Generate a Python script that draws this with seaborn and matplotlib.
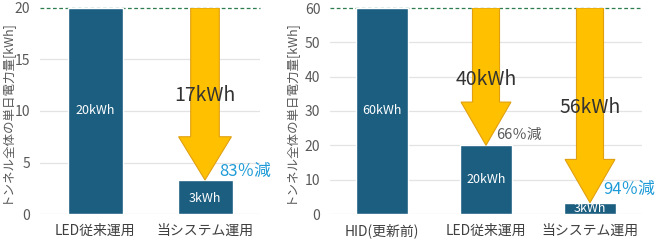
import matplotlib
matplotlib.use("Agg")
import matplotlib.pyplot as plt
import seaborn as sns
import numpy as np

# ---- data ----
left_categories = ["LED従来運用", "当システム運用"]
left_values = [20, 3.3]
left_bar_labels = ["20kWh", "3kWh"]
left_yticks = [0, 5, 10, 15, 20]
left_arrow_labels = ["17kWh"]
left_reduction_labels = ["83％減"]

right_categories = ["HID(更新前)", "LED従来運用", "当システム運用"]
right_values = [60, 20, 3.3]
right_bar_labels = ["60kWh", "20kWh", "3kWh"]
right_yticks = [0, 10, 20, 30, 40, 50, 60]
right_arrow_labels = ["40kWh", "56kWh"]
right_reduction_labels = ["66％減", "94％減"]

ylabel_text = "トンネル全体の単日電力量[kWh]"

# ---- style ----
sns.set_theme(style="white")
plt.rcParams["font.family"] = ["Noto Sans CJK JP", "DejaVu Sans"]

BAR = "#1b5e80"
ARROW = "#ffc000"
ARROW_EDGE = "#e0a010"
BLUE = "#1e9bd7"
GRAY_TXT = "#595959"
DARK_TXT = "#333333"
GRID = "#e3e3e3"
GREEN = "#2e7d4f"

fig = plt.figure(figsize=(6.55, 2.42), dpi=100)
axL = fig.add_axes([40 / 655, 28 / 242, 220 / 655, 206 / 242])
axR = fig.add_axes([330 / 655, 28 / 242, 312 / 655, 206 / 242])


def style_axis(ax, ymax, yticks, label_x):
    ax.set_ylim(0, ymax)
    ax.set_yticks(yticks)
    for s in ax.spines.values():
        s.set_visible(False)
    for t in yticks[:-1]:
        ax.axhline(t, color=GRID, lw=0.9, zorder=0)
    ax.axhline(ymax, color=GREEN, lw=0.9, ls=(0, (3, 2)), zorder=0, clip_on=False)
    ax.tick_params(axis="y", length=0, pad=7, labelsize=10, labelcolor=GRAY_TXT)
    ax.tick_params(axis="x", length=0, pad=7, labelsize=10, labelcolor="#404040")
    ax.set_xlabel("")
    ax.set_ylabel(ylabel_text, fontsize=9, color=GRAY_TXT)
    ax.yaxis.set_label_coords(label_x, 0.5)


def draw_arrow(ax, x, top, bottom, head_len):
    ax.arrow(x, top, 0, -(top - bottom), width=0.26, head_width=0.48,
             head_length=head_len, length_includes_head=True,
             facecolor=ARROW, edgecolor=ARROW_EDGE, lw=0.8, zorder=3)


# ---- left panel ----
sns.barplot(x=left_categories, y=left_values, ax=axL, color=BAR,
            width=0.5, saturation=1, zorder=2)
axL.set_xlim(-0.5, 1.5)
style_axis(axL, 20, left_yticks, -0.125)
for i, (v, lab) in enumerate(zip(left_values, left_bar_labels)):
    axL.text(i, v / 2 if v > 5 else 1.5, lab, color="white", fontsize=9,
             ha="center", va="center", zorder=4)
draw_arrow(axL, 1, 20, left_values[1], 4.2)
axL.text(1, 11.5, left_arrow_labels[0], fontsize=14, color=DARK_TXT,
         ha="center", va="center", zorder=5)
axL.text(1.13, 4.1, left_reduction_labels[0], fontsize=12, color=BLUE,
         ha="left", va="center", zorder=5)

# ---- right panel ----
sns.barplot(x=right_categories, y=right_values, ax=axR, color=BAR,
            width=0.5, saturation=1, zorder=2)
axR.set_xlim(-0.5, 2.5)
style_axis(axR, 60, right_yticks, -0.105)
for i, (v, lab) in enumerate(zip(right_values, right_bar_labels)):
    axR.text(i, v / 2 if v > 5 else 1.5, lab, color="white", fontsize=9,
             ha="center", va="center", zorder=4)
draw_arrow(axR, 1, 60, right_values[1], 12.6)
draw_arrow(axR, 2, 60, right_values[2], 12.6)
axR.text(1, 39.3, right_arrow_labels[0], fontsize=14, color=DARK_TXT,
         ha="center", va="center", zorder=5)
axR.text(2, 31, right_arrow_labels[1], fontsize=14, color=DARK_TXT,
         ha="center", va="center", zorder=5)
axR.text(1.1, 23, right_reduction_labels[0], fontsize=10.5, color=GRAY_TXT,
         ha="left", va="center", zorder=5)
axR.text(2.13, 7, right_reduction_labels[1], fontsize=12, color=BLUE,
         ha="left", va="center", zorder=5)

fig.savefig("out.png", dpi=100, facecolor="white")
